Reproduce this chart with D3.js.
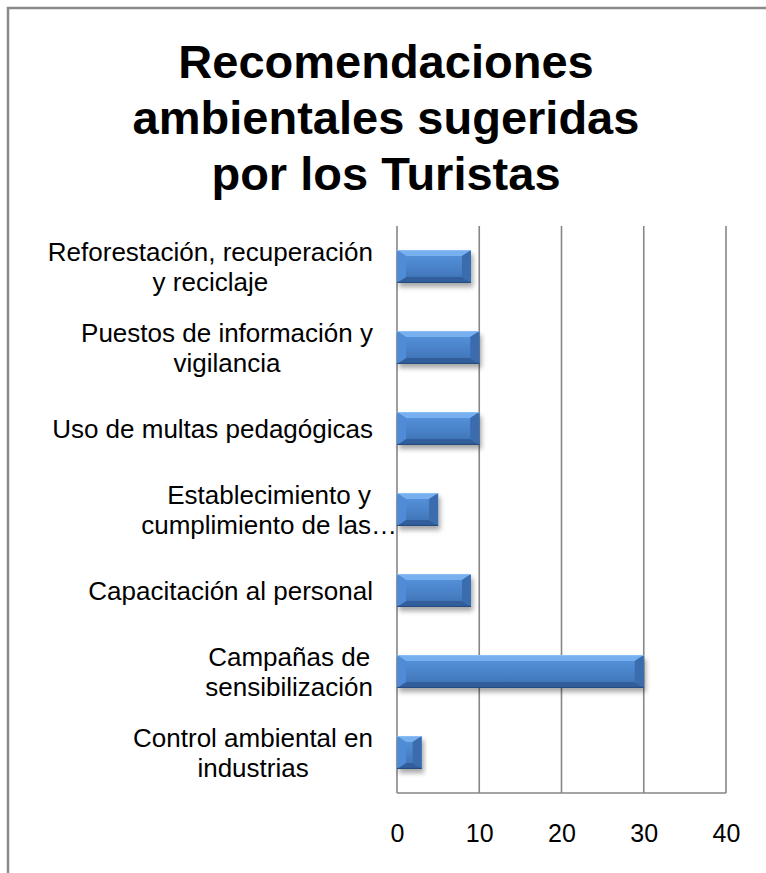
<!DOCTYPE html>
<html>
<head>
<meta charset="utf-8">
<script src="https://cdn.jsdelivr.net/npm/d3@7"></script>
<style>
  html, body { margin: 0; padding: 0; background: #fff; }
  svg { display: block; font-family: "Liberation Sans", Arial, sans-serif; }
</style>
</head>
<body>
<svg id="chart" width="766" height="873"></svg>
<script>
const titleLines = ["Recomendaciones", "ambientales sugeridas", "por los Turistas"];
const categories = [
  ["Reforestación, recuperación", "y reciclaje"],
  ["Puestos de información y", "vigilancia"],
  ["Uso de multas pedagógicas"],
  ["Establecimiento y", "cumplimiento de las…"],
  ["Capacitación al personal "],
  ["Campañas de", "sensibilización"],
  ["Control ambiental en", "industrias"]
];
const values = [9, 10, 10, 5, 9, 30, 3];
const tickValues = [0, 10, 20, 30, 40];

const W = 766, H = 873;
const svg = d3.select("#chart");
const defs = svg.append("defs");

// frame
svg.append("rect").attr("x", 8).attr("y", 8).attr("width", W + 10).attr("height", H + 10)
  .attr("fill", "none").attr("stroke", "#8a8a8a").attr("stroke-width", 2.5);

// title
svg.append("g").selectAll("text").data(titleLines).join("text")
  .attr("x", 386).attr("y", (d, i) => 78 + i * 56)
  .attr("text-anchor", "middle").attr("font-weight", "bold").attr("font-size", 47)
  .attr("fill", "#000").text(d => d);

const x = d3.scaleLinear().domain([0, 40]).range([397, 726]);
const y = d3.scaleBand().domain(d3.range(categories.length)).range([226, 793]).paddingInner(0.595).paddingOuter(0.2975);

// gridlines
svg.append("g").selectAll("line").data(tickValues).join("line")
  .attr("x1", d => x(d)).attr("x2", d => x(d)).attr("y1", 226).attr("y2", 793)
  .attr("stroke", "#868686").attr("stroke-width", 1.6);
svg.append("line").attr("x1", x(0)).attr("x2", x(40)).attr("y1", 793).attr("y2", 793)
  .attr("stroke", "#868686").attr("stroke-width", 1.6);

// x tick labels via axis
const xAxis = svg.append("g").attr("transform", "translate(0,824)")
  .call(d3.axisBottom(x).tickValues(tickValues).tickSize(0).tickPadding(0));
xAxis.select(".domain").remove();
xAxis.selectAll("text").attr("font-size", 25).attr("fill", "#000")
  .attr("font-family", "'Liberation Sans', Arial, sans-serif").attr("dy", "0.71em");

// bar defs
const grad = defs.append("linearGradient").attr("id", "face").attr("x1", 0).attr("x2", 0).attr("y1", 0).attr("y2", 1);
grad.append("stop").attr("offset", "0%").attr("stop-color", "#5796e0");
grad.append("stop").attr("offset", "55%").attr("stop-color", "#4a82c8");
grad.append("stop").attr("offset", "100%").attr("stop-color", "#3b6fb1");
const f = defs.append("filter").attr("id", "shadow").attr("x", "-10%").attr("y", "-30%").attr("width", "130%").attr("height", "190%");
f.append("feDropShadow").attr("dx", 2).attr("dy", 4).attr("stdDeviation", 2.5)
  .attr("flood-color", "#000").attr("flood-opacity", 0.35);

const bars = svg.append("g").selectAll("g").data(values).join("g").attr("filter", "url(#shadow)");
bars.each(function (v, i) {
  const g = d3.select(this);
  const x0 = x(0), x1 = x(v), y0 = y(i), y1 = y(i) + y.bandwidth();
  const bx = Math.min(9, (x1 - x0) / 2), by = 6;
  g.append("rect").attr("x", x0).attr("y", y0).attr("width", x1 - x0).attr("height", y1 - y0).attr("fill", "url(#face)");
  const poly = (pts, c) => g.append("polygon").attr("points", pts.map(p => p.join(",")).join(" ")).attr("fill", c);
  poly([[x0, y0], [x1, y0], [x1 - bx, y0 + by], [x0 + bx, y0 + by]], "#78b0ef");
  poly([[x0, y1], [x1, y1], [x1 - bx, y1 - by], [x0 + bx, y1 - by]], "#325f9c");
  poly([[x0, y0], [x0 + bx, y0 + by], [x0 + bx, y1 - by], [x0, y1]], "#4f8bd6");
  poly([[x1, y0], [x1 - bx, y0 + by], [x1 - bx, y1 - by], [x1, y1]], "#3a6cad");
  g.append("line").attr("x1", x0).attr("x2", x1).attr("y1", y0 + 0.5).attr("y2", y0 + 0.5).attr("stroke", "#8cc0f5").attr("stroke-width", 1);
  g.append("line").attr("x1", x0).attr("x2", x1).attr("y1", y1 - 0.5).attr("y2", y1 - 0.5).attr("stroke", "#24497c").attr("stroke-width", 1);
});

// category labels
const fs = 26, lh = 30;
const lab = svg.append("g").attr("font-size", fs).attr("fill", "#000");
categories.forEach((lines, i) => {
  const cy = y(i) + y.bandwidth() / 2;
  const g = lab.append("g");
  const texts = g.selectAll("text").data(lines).join("text")
    .attr("y", (d, k) => cy + (k - (lines.length - 1) / 2) * lh + fs * 0.36)
    .text(d => d);
  let maxW = 0;
  texts.each(function () { maxW = Math.max(maxW, this.getComputedTextLength()); });
  const truncated = lines.some(l => l.endsWith("…"));
  const right = truncated ? x(0) : x(0) - 24;
  texts.attr("x", right - maxW / 2).attr("text-anchor", "middle");
});
</script>
</body>
</html>
